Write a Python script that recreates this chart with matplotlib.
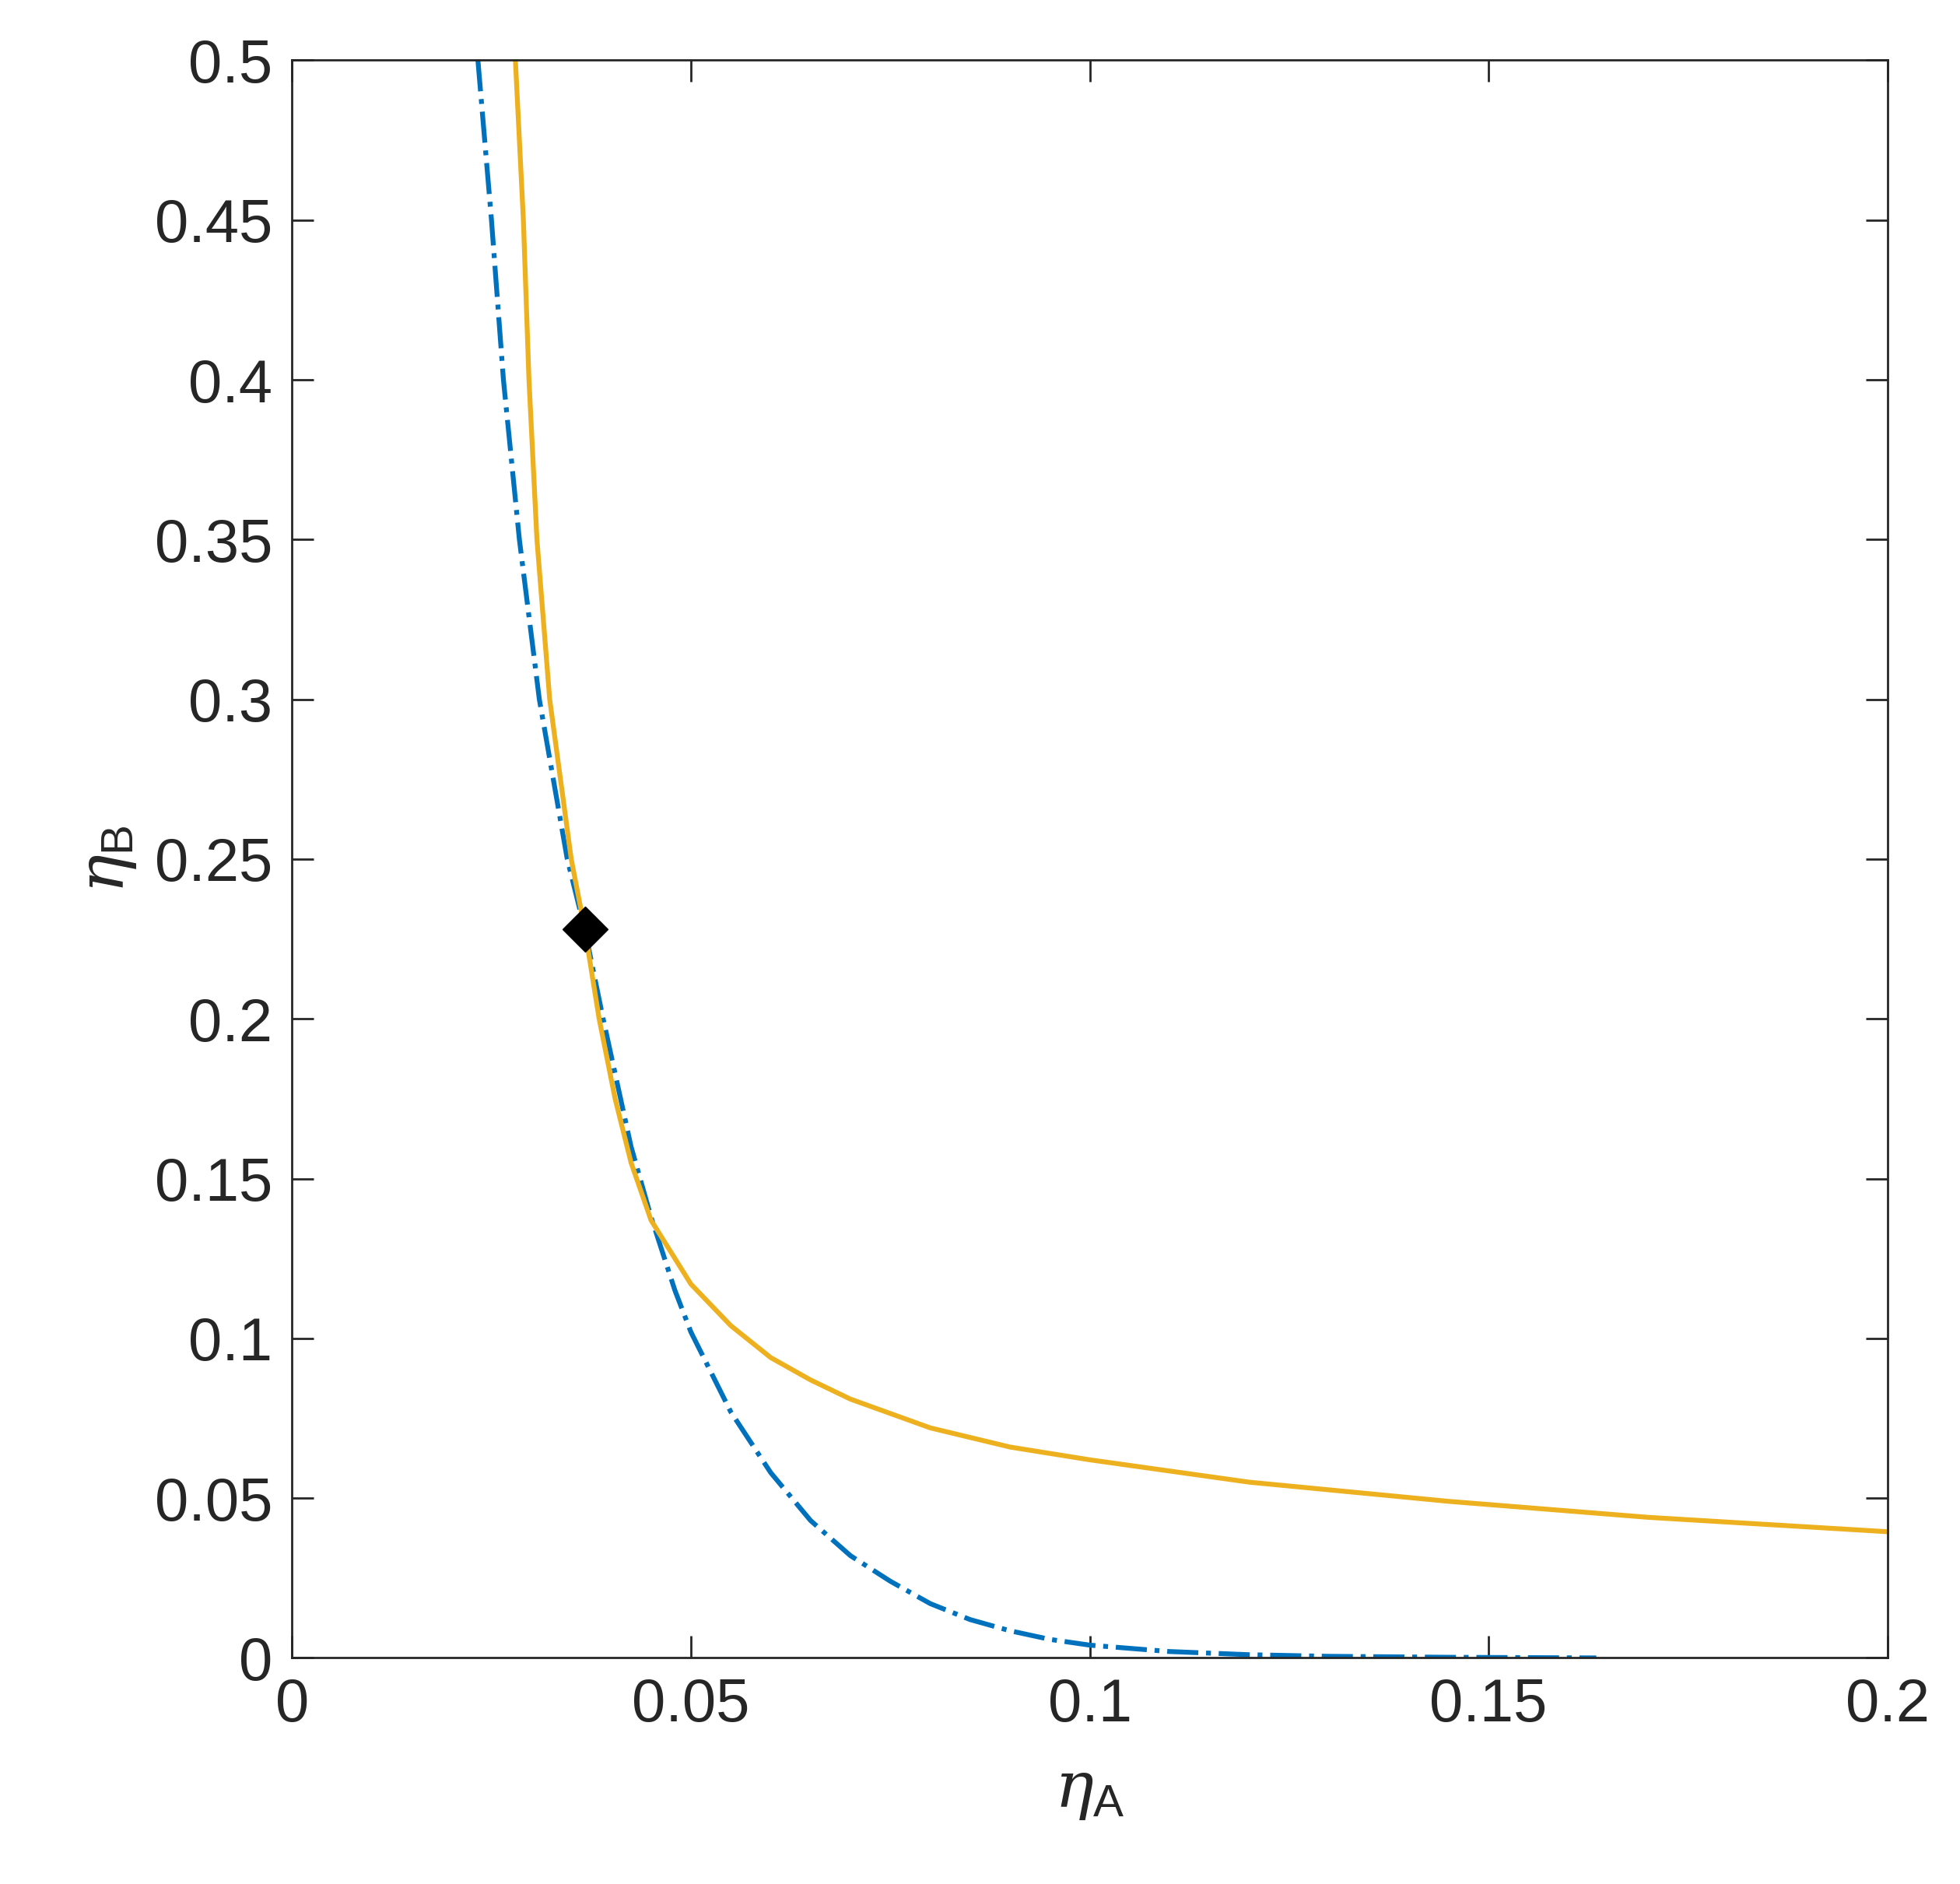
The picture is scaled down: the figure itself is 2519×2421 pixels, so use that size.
import matplotlib
matplotlib.use('Agg')
import matplotlib.pyplot as plt

plt.rcParams['font.family'] = ['Liberation Sans', 'DejaVu Sans']
plt.rcParams['mathtext.fontset'] = 'custom'
plt.rcParams['mathtext.rm'] = 'Liberation Sans'
plt.rcParams['mathtext.it'] = 'DejaVu Serif:italic'

orange_x = [0.028, 0.029, 0.0297, 0.0307, 0.0323, 0.035, 0.0367, 0.0385, 0.0405, 0.0425, 0.045, 0.05, 0.055, 0.06, 0.065, 0.07, 0.08, 0.09, 0.1, 0.12, 0.145, 0.17, 0.2]
orange_y = [0.5, 0.45, 0.4, 0.35, 0.3, 0.25, 0.228, 0.2, 0.175, 0.155, 0.137, 0.117, 0.104, 0.094, 0.087, 0.081, 0.072, 0.066, 0.062, 0.055, 0.049, 0.044, 0.0395]
blue_x = [0.0233, 0.025, 0.0265, 0.0285, 0.031, 0.0345, 0.0367, 0.039, 0.0425, 0.045, 0.048, 0.05, 0.055, 0.06, 0.065, 0.07, 0.075, 0.08, 0.085, 0.09, 0.095, 0.1, 0.11, 0.12, 0.13, 0.145, 0.1635]
blue_y = [0.5, 0.45, 0.4, 0.35, 0.3, 0.25, 0.228, 0.2, 0.16, 0.138, 0.115, 0.102, 0.077, 0.058, 0.043, 0.032, 0.024, 0.017, 0.012, 0.0085, 0.0058, 0.004, 0.002, 0.001, 0.0005, 0.0002, 0.0]
point_x = [0.0367]
point_y = [0.228]
xticks = [0, 0.05, 0.1, 0.15, 0.2]
xticklabels = ['0', '0.05', '0.1', '0.15', '0.2']
yticks = [0, 0.05, 0.1, 0.15, 0.2, 0.25, 0.3, 0.35, 0.4, 0.45, 0.5]
yticklabels = ['0', '0.05', '0.1', '0.15', '0.2', '0.25', '0.3', '0.35', '0.4', '0.45', '0.5']

fig = plt.figure(figsize=(25.19, 24.21), dpi=100)
ax = fig.add_axes([0.149, 0.12, 0.814, 0.848])
ax.plot(blue_x, blue_y, color='#0072BD', lw=4.5, ls='-.')
ax.plot(orange_x, orange_y, color='#EDB120', lw=4.5)
ax.plot(point_x, point_y, marker='D', color='black', ms=30, ls='none')
ax.set_xlim(0, 0.2)
ax.set_ylim(0, 0.5)
ax.set_xticks(xticks)
ax.set_xticklabels(xticklabels)
ax.set_yticks(yticks)
ax.set_yticklabels(yticklabels)
ax.tick_params(direction='in', top=True, right=True, length=20, width=2, labelsize=56, pad=18, colors='#262626')
for s in ax.spines.values():
    s.set_linewidth(2)
    s.set_color('#262626')
ax.set_xlabel(r'$\eta_\mathrm{A}$', fontsize=60, color='#262626', labelpad=25)
ax.set_ylabel(r'$\eta_\mathrm{B}$', fontsize=60, color='#262626', labelpad=15)
fig.savefig('out.png', dpi=100, facecolor='white')
